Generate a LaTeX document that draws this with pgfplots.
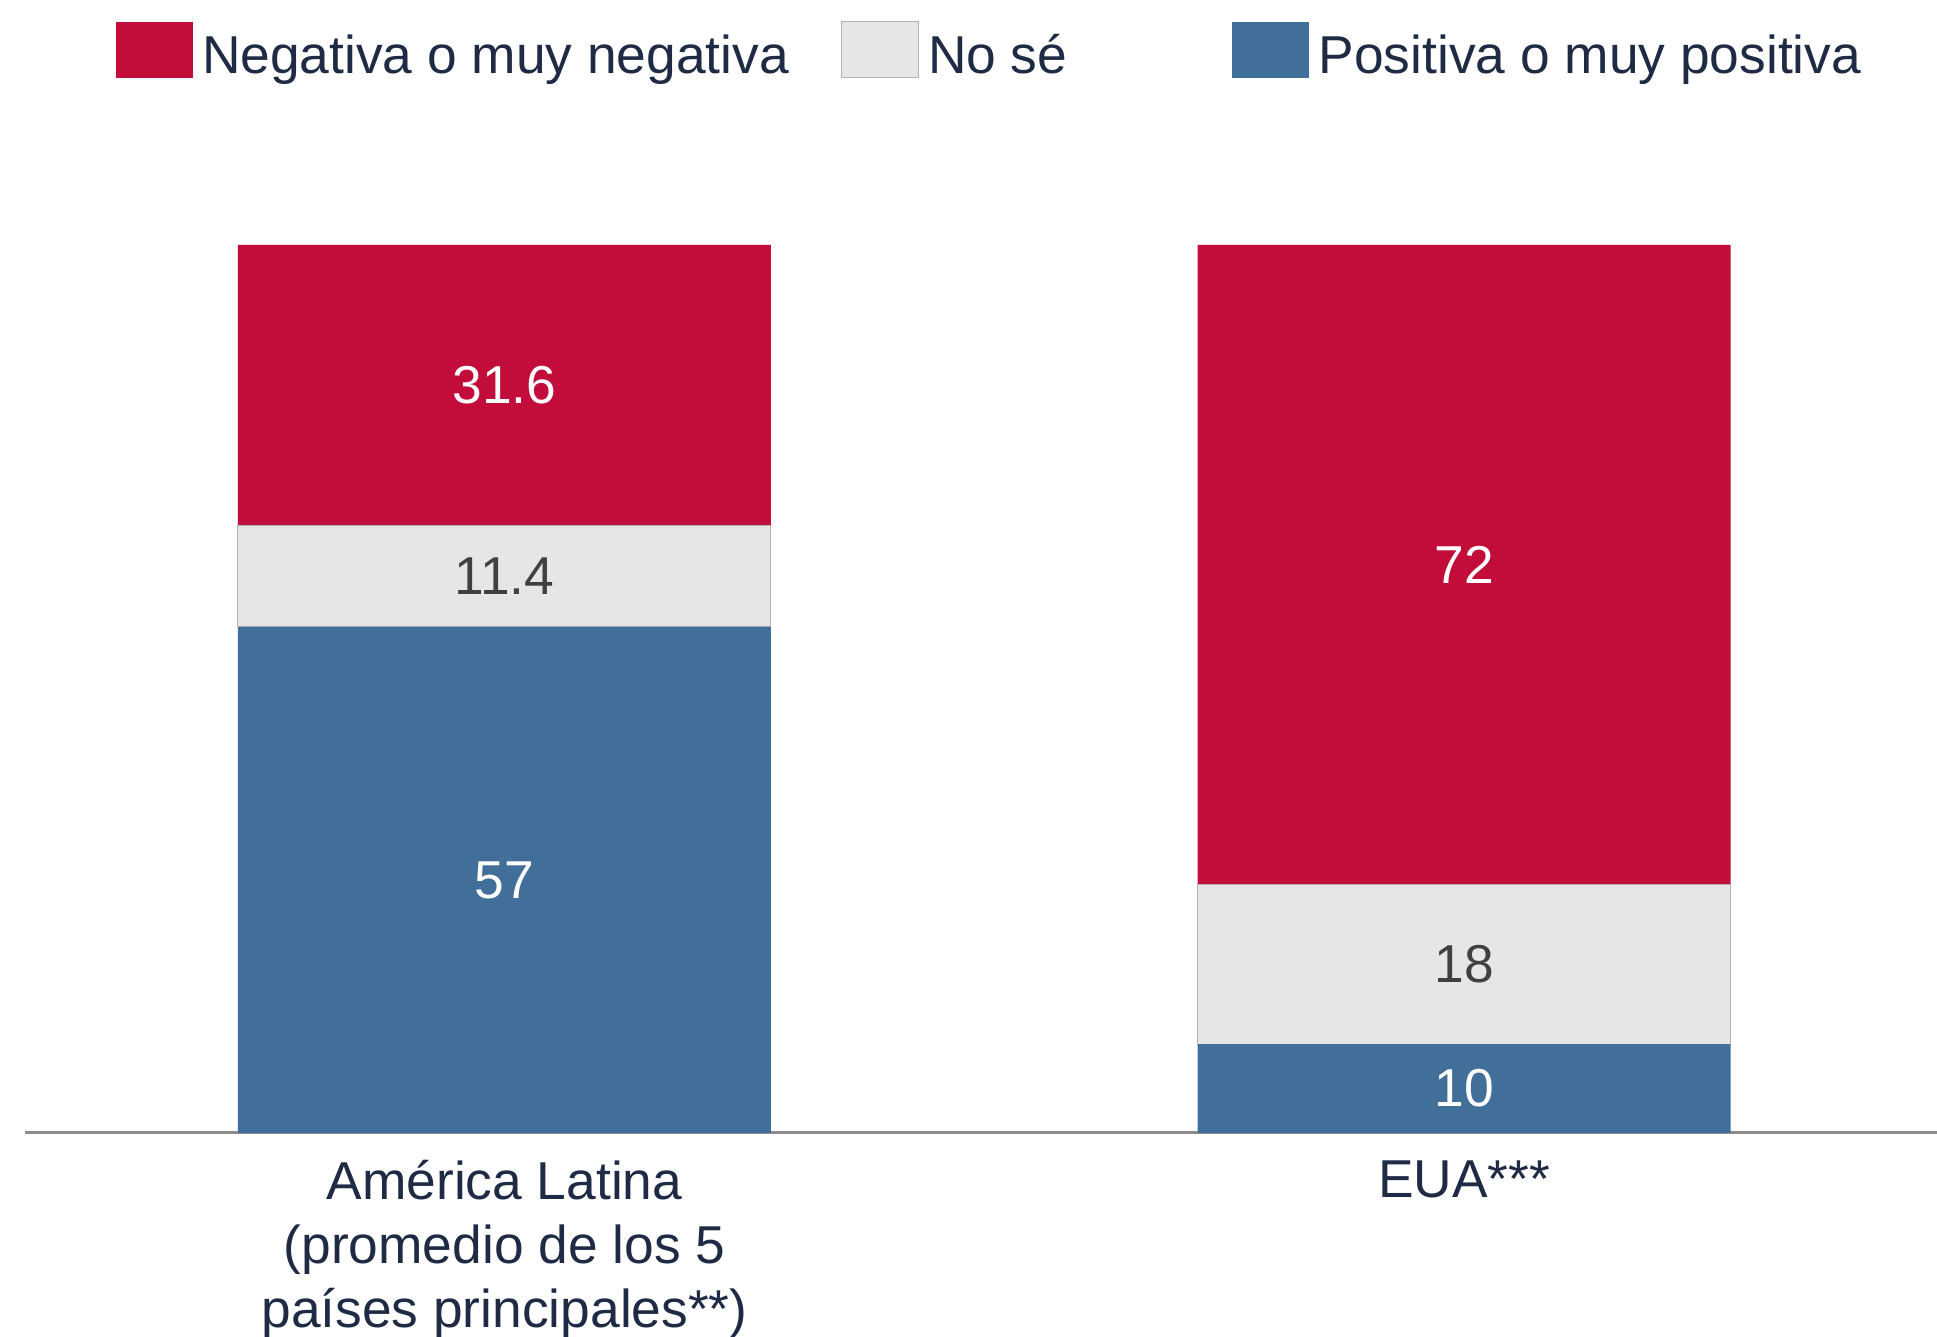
\documentclass[border=0pt]{standalone}
\usepackage{fontspec}
\setmainfont{Liberation Sans}
\usepackage{pgfplots}
\pgfplotsset{compat=1.18}
\definecolor{negred}{HTML}{C20C3A}
\definecolor{nosegray}{HTML}{E6E6E6}
\definecolor{posblue}{HTML}{426F99}
\definecolor{txtnavy}{HTML}{1F2A44}
\definecolor{axgray}{HTML}{8C8C8C}
\pgfplotsset{
  sqlegend/.style={legend image code/.code={\fill[##1] (0pt,-6.3pt) rectangle (23.1pt,10.5pt); \path (24.4pt,0pt);}},
}
\begin{document}
\begin{tikzpicture}[x=1pt,y=1pt]
\path[use as bounding box] (-7.5,-61.2) rectangle (573.6,339.9);
\begin{axis}[
  at={(0,0)}, anchor=south west,
  scale only axis,
  width=573.6pt, height=266.4pt,
  ybar stacked, bar width=159.9pt,
  xmin=-0.4997, xmax=1.4929,
  ymin=0, ymax=100,
  axis x line*=bottom,
  axis y line=none,
  x axis line style={draw=axgray, line width=0.9pt, -},
  xtick={0,1},
  xticklabels={{América Latina\\(promedio de los 5\\países principales**)}, {EUA***}},
  major tick length=0pt,
  xticklabel style={align=center, inner sep=0pt, yshift=-8pt, text=txtnavy,
    font=\fontsize{16}{19.2}\selectfont},
  nodes near coords,
  every node near coord/.append style={font=\fontsize{16}{19.2}\selectfont, text=white,
    /pgf/number format/assume math mode=true},
  legend columns=3,
  reverse legend,
  legend style={at={(0.0471,1.2169)}, anchor=west, draw=none, fill=none,
    inner sep=0pt, text=txtnavy, font=\fontsize{16}{19.2}\selectfont,
    nodes={inner sep=1.5pt},
    /tikz/every even column/.append style={column sep=14pt}},
]
\addplot[fill=posblue, draw=none, sqlegend] coordinates {(0,57) (1,10)};
\addplot[fill=nosegray, draw=gray!60, line width=0.3pt, sqlegend,
  every node near coord/.append style={text=black!75}] coordinates {(0,11.4) (1,18)};
\addplot[fill=negred, draw=none, sqlegend] coordinates {(0,31.6) (1,72)};
\legend{Positiva o muy positiva, No sé\hspace*{34pt}, Negativa o muy negativa}
\end{axis}
\end{tikzpicture}
\end{document}
